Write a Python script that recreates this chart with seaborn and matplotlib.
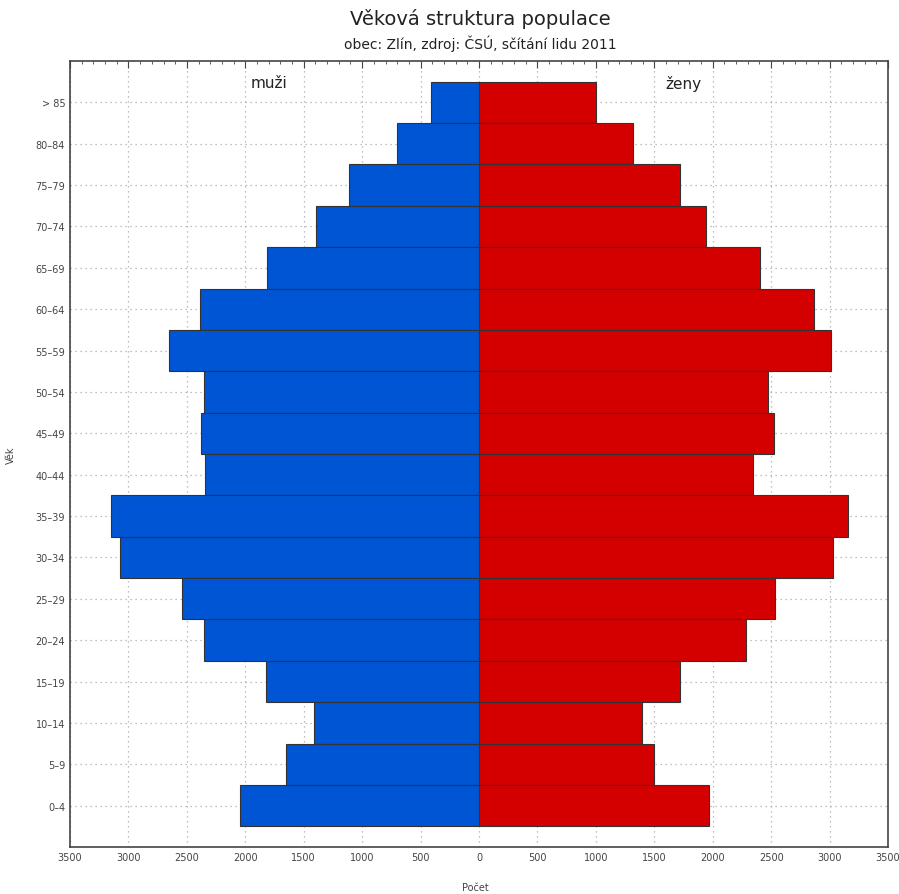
import numpy as np
import pandas as pd
import matplotlib
matplotlib.use("Agg")
import matplotlib.pyplot as plt
from matplotlib.ticker import MultipleLocator, FuncFormatter
import seaborn as sns

MALE_COLOR   = "#0055D4"
FEMALE_COLOR = "#D40000"
EDGE_COLOR   = "#333333"

age_groups = [">85", "80–84", "75–79", "70–74", "65–69", "60–64", "55–59",
              "50–54", "45–49", "40–44", "35–39", "30–34", "25–29", "20–24",
              "15–19", "10–14", "5–9", "0–4"]
age_labels = ["> 85"] + age_groups[1:]
muzi  = [410, 700, 1110, 1391, 1818, 2390, 2655, 2356, 2382, 2348,
         3150, 3073, 2544, 2356, 1827, 1408, 1656, 2049]
zeny  = [999, 1315, 1724, 1946, 2407, 2868, 3013, 2476, 2527, 2348,
         3159, 3031, 2535, 2288, 1716, 1391, 1494, 1972]

df = pd.DataFrame({"vek": age_groups,
                   "muzi": -np.array(muzi),
                   "zeny": np.array(zeny)})

sns.set_style("white")
plt.rcParams["font.family"] = ["DejaVu Sans"]

fig = plt.figure(figsize=(8.99, 8.95), dpi=100)
ax = fig.add_axes([0.0779, 0.0525, 0.9099, 0.8782])

sns.barplot(data=df, y="vek", x="muzi", order=age_groups, orient="h",
            color=MALE_COLOR, saturation=1, width=1.0,
            edgecolor=EDGE_COLOR, linewidth=0.8, ax=ax, zorder=3)
sns.barplot(data=df, y="vek", x="zeny", order=age_groups, orient="h",
            color=FEMALE_COLOR, saturation=1, width=1.0,
            edgecolor=EDGE_COLOR, linewidth=0.8, ax=ax, zorder=3)

ax.set_xlim(-3500, 3500)
ax.set_ylim(len(age_groups), -1.0)
ax.xaxis.set_major_locator(MultipleLocator(500))
ax.xaxis.set_minor_locator(MultipleLocator(100))
ax.xaxis.set_major_formatter(FuncFormatter(lambda v, p: f"{abs(int(v))}"))
ax.set_yticks(range(len(age_groups)))
ax.set_yticklabels(age_labels)

ax.grid(True, which="major", ls=(0, (1, 3)), color="#aaaaaa", lw=0.9, zorder=0)
ax.set_axisbelow(True)
ax.tick_params(axis="both", which="both", direction="in", labelsize=7,
               labelcolor="#444444", color="#444444")
ax.tick_params(axis="x", which="both", top=True)
ax.tick_params(axis="x", which="major", length=5)
ax.tick_params(axis="x", which="minor", length=2.5)
ax.tick_params(axis="y", which="major", length=5)
for s in ax.spines.values():
    s.set_color("#444444")
    s.set_linewidth(1.2)

ax.set_xlabel("Počet", fontsize=7, color="#444444")
ax.xaxis.set_label_coords(0.495, -0.045)
ax.set_ylabel("Věk", fontsize=7, color="#444444", labelpad=14)

ax.text(-1800, -0.47, "muži", fontsize=11, color="#222222", ha="center", va="center")
ax.text(1750, -0.47, "ženy", fontsize=11, color="#222222", ha="center", va="center")

fig.text(0.534, 0.979, "Věková struktura populace", ha="center", va="center",
         fontsize=14, color="#222222")
fig.text(0.534, 0.951, "obec: Zlín, zdroj: ČSÚ, sčítání lidu 2011", ha="center",
         va="center", fontsize=10, color="#222222")

fig.savefig("out.png", dpi=100, facecolor="white")
